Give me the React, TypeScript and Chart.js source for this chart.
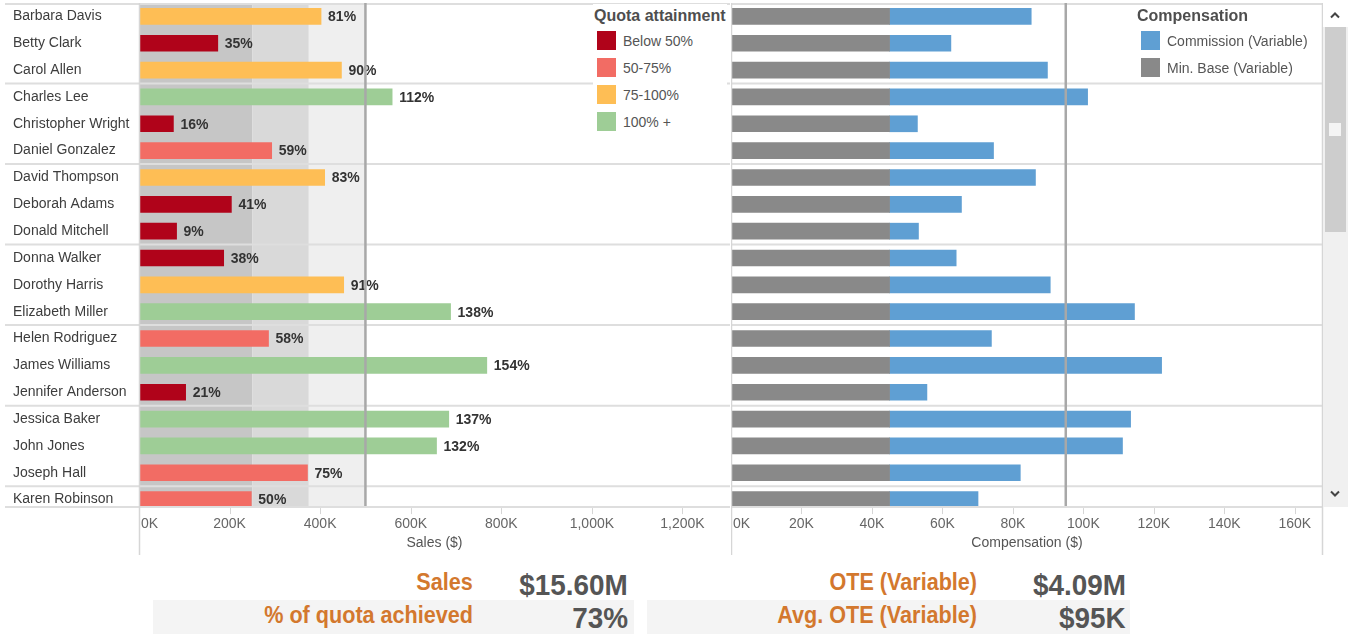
import React, { useEffect, useRef } from 'react';
import { Chart, registerables } from 'chart.js';

Chart.register(...registerables);

// ---------- data ----------
const REPS = [
  'Barbara Davis', 'Betty Clark', 'Carol Allen', 'Charles Lee', 'Christopher Wright',
  'Daniel Gonzalez', 'David Thompson', 'Deborah Adams', 'Donald Mitchell', 'Donna Walker',
  'Dorothy Harris', 'Elizabeth Miller', 'Helen Rodriguez', 'James Williams', 'Jennifer Anderson',
  'Jessica Baker', 'John Jones', 'Joseph Hall', 'Karen Robinson',
];
const REP_GROUP = [1, 1, 1, 2, 2, 2, 3, 3, 3, 4, 4, 4, 5, 5, 5, 6, 6, 6, 7];
const SALES = [
  402000, 174000, 447000, 559000, 76000, 293000, 410000, 204000, 83000, 187000,
  452000, 688000, 286000, 768000, 103000, 684000, 657000, 372000, 248000,
];
const QUOTA_PCT = [81, 35, 90, 112, 16, 59, 83, 41, 9, 38, 91, 138, 58, 154, 21, 137, 132, 75, 50];
const MIN_BASE = [
  45000, 45000, 45000, 45000, 45000, 45000, 45000, 45000, 45000, 45000,
  45000, 45000, 45000, 45000, 45000, 45000, 45000, 45000, 45000,
];
const COMMISSION = [
  40200, 17400, 44800, 56200, 7900, 29500, 41400, 20400, 8200, 18900,
  45600, 69500, 28900, 77200, 10600, 68400, 66100, 37100, 25100,
];

const SALES_TICKS = [0, 200000, 400000, 600000, 800000, 1000000, 1200000];
const SALES_TICK_LABELS = ['0K', '200K', '400K', '600K', '800K', '1,000K', '1,200K'];
const COMP_TICKS = [0, 20000, 40000, 60000, 80000, 100000, 120000, 140000, 160000];
const COMP_TICK_LABELS = ['0K', '20K', '40K', '60K', '80K', '100K', '120K', '140K', '160K'];

const QUOTA_BANDS = [0, 250000, 375000, 500000];
const QUOTA_LINE = 500000;
const AVG_OTE = 95000;

const TIERS = ['Below 50%', '50-75%', '75-100%', '100% +'];
const COMP_SERIES = ['Commission (Variable)', 'Min. Base (Variable)'];

const KPI_LEFT = [['Sales', '$15.60M'], ['% of quota achieved', '73%']];
const KPI_RIGHT = [['OTE (Variable)', '$4.09M'], ['Avg. OTE (Variable)', '$95K']];

// ---------- styles / layout ----------
const VISIBLE_ROWS = 18.78; // rows visible in the scrolling window (last row is cut)
const TIER_COLORS = ['#B0031A', '#F26C64', '#FEBE55', '#9ECD96'];
const COMP_COLORS = ['#5F9FD3', '#898989'];
const BAND_COLORS = ['#C6C6C6', '#D9D9D9', '#EFEFEF'];
const SEP = '#DEDEDE';
const AXIS = '#D6D6D6';
const REF = '#A8A8A8';
const FONT = '"Liberation Sans", Arial, sans-serif';
const ORANGE = '#D3782E';

const tierOf = (p: number) => (p < 50 ? 0 : p <= 75 ? 1 : p < 100 ? 2 : 3);

function hLine(ctx: CanvasRenderingContext2D, x0: number, x1: number, y: number, color: string, w: number) {
  ctx.save();
  ctx.strokeStyle = color;
  ctx.lineWidth = w;
  ctx.beginPath();
  ctx.moveTo(x0, y);
  ctx.lineTo(x1, y);
  ctx.stroke();
  ctx.restore();
}
function vLine(ctx: CanvasRenderingContext2D, x: number, y0: number, y1: number, color: string, w: number) {
  ctx.save();
  ctx.strokeStyle = color;
  ctx.lineWidth = w;
  ctx.beginPath();
  ctx.moveTo(x, y0);
  ctx.lineTo(x, y1);
  ctx.stroke();
  ctx.restore();
}

type DecorOpts = {
  bands: boolean;
  ref: number;
  ticks: number[];
  tickLabels: string[];
  title: string;
  lineStart: number;
  valueLabels: boolean;
  rightBorder: boolean;
};

const visibleBottom = (a: any) => a.top + ((a.bottom - a.top) * VISIBLE_ROWS) / REPS.length;

function makeDecor(o: DecorOpts) {
  return {
    id: 'decor',
    beforeDatasetsDraw(chart: any) {
      const { ctx, chartArea: a, scales } = chart;
      const x = scales.x;
      const y = scales.y;
      const bottom = visibleBottom(a);
      if (o.bands) {
        for (let b = 0; b < QUOTA_BANDS.length - 1; b++) {
          const x0 = x.getPixelForValue(QUOTA_BANDS[b]);
          const x1 = x.getPixelForValue(QUOTA_BANDS[b + 1]);
          ctx.fillStyle = BAND_COLORS[b];
          ctx.fillRect(x0, a.top, x1 - x0, bottom - a.top);
        }
      }
      for (let i = 1; i < REPS.length; i++) {
        if (REP_GROUP[i] !== REP_GROUP[i - 1]) {
          const yy = (y.getPixelForValue(i - 1) + y.getPixelForValue(i)) / 2;
          hLine(ctx, o.lineStart, a.right, yy, SEP, 2);
        }
      }
      hLine(ctx, o.lineStart, a.right, a.top + 1, SEP, 2);
    },
    afterDatasetsDraw(chart: any) {
      const { ctx, chartArea: a, scales, height } = chart;
      const x = scales.x;
      const bottom = visibleBottom(a);
      if (o.valueLabels) {
        ctx.save();
        ctx.textBaseline = 'middle';
        const meta = chart.getDatasetMeta(0);
        ctx.font = `bold 14px ${FONT}`;
        ctx.fillStyle = '#333333';
        ctx.textAlign = 'left';
        meta.data.forEach((el: any, i: number) => {
          ctx.fillText(`${QUOTA_PCT[i]}%`, el.x + 7, el.y + 1);
        });
        ctx.restore();
      }

      // cover anything below the visible window (scrolled-off part)
      ctx.save();
      ctx.fillStyle = '#ffffff';
      ctx.fillRect(a.left, bottom, a.right - a.left, a.bottom - bottom + 1);
      ctx.restore();

      // reference line
      const rx = x.getPixelForValue(o.ref);
      vLine(ctx, rx, a.top, bottom, REF, 2.5);

      // axes
      hLine(ctx, o.lineStart, a.right, bottom, SEP, 2);
      vLine(ctx, a.left + 0.5, a.top, height - 5, AXIS, 1.5);
      if (o.rightBorder) vLine(ctx, a.right - 0.5, a.top, height - 5, AXIS, 1.5);

      ctx.save();
      ctx.textBaseline = 'middle';
      ctx.font = `14px ${FONT}`;
      ctx.fillStyle = '#666666';
      o.ticks.forEach((v, i) => {
        const px = x.getPixelForValue(v);
        if (i > 0) vLine(ctx, Math.round(px) + 0.5, bottom + 1, bottom + 7, AXIS, 1);
        if (i === 0) {
          ctx.textAlign = 'left';
          ctx.fillText(o.tickLabels[i], px + 2, bottom + 17);
        } else {
          ctx.textAlign = 'center';
          ctx.fillText(o.tickLabels[i], px, bottom + 17);
        }
      });
      ctx.textAlign = 'center';
      ctx.fillStyle = '#555555';
      ctx.fillText(o.title, (a.left + a.right) / 2, bottom + 36);
      ctx.restore();
    },
  };
}

function Chevron({ x, y, up }: { x: number; y: number; up: boolean }) {
  return (
    <svg width={12} height={8} style={{ position: 'absolute', left: x - 6, top: y - 4 }} viewBox="0 0 12 8">
      <polyline
        points={up ? '2,6.5 6,2.5 10,6.5' : '2,1.5 6,5.5 10,1.5'}
        fill="none"
        stroke="#444"
        strokeWidth={2}
      />
    </svg>
  );
}

export default function App() {
  const salesRef = useRef<HTMLCanvasElement>(null);
  const compRef = useRef<HTMLCanvasElement>(null);

  useEffect(() => {
    Chart.defaults.font.family = FONT;

    const c1 = new Chart(salesRef.current as HTMLCanvasElement, {
      type: 'bar',
      data: {
        labels: REPS,
        datasets: [
          {
            label: 'Sales ($)',
            data: SALES,
            backgroundColor: QUOTA_PCT.map((p) => TIER_COLORS[tierOf(p)]),
            barThickness: 16,
            borderWidth: 0,
          },
        ],
      },
      options: {
        indexAxis: 'y',
        responsive: false,
        animation: false,
        layout: { padding: { left: 13, right: 1, top: 3, bottom: 47 } },
        scales: {
          x: { type: 'linear', display: false, min: 0, max: 1305000 },
          y: {
            type: 'category',
            offset: true,
            grid: { display: false, drawTicks: false },
            border: { display: false },
            ticks: {
              font: { size: 14, family: FONT },
              color: '#3D3D3D',
              crossAlign: 'far',
              padding: 0,
              autoSkip: false,
            },
            afterFit: (s: any) => {
              s.width = 126;
              s.paddingTop = 0;
              s.paddingBottom = 0;
            },
          },
        },
        plugins: { legend: { display: false }, tooltip: { enabled: false } },
      } as any,
      plugins: [
        makeDecor({
          bands: true,
          ref: QUOTA_LINE,
          ticks: SALES_TICKS,
          tickLabels: SALES_TICK_LABELS,
          title: 'Sales ($)',
          lineStart: 5,
          valueLabels: true,
          rightBorder: false,
        }),
      ],
    });

    const c2 = new Chart(compRef.current as HTMLCanvasElement, {
      type: 'bar',
      data: {
        labels: REPS,
        datasets: [
          {
            label: COMP_SERIES[1],
            data: MIN_BASE,
            backgroundColor: COMP_COLORS[1],
            barThickness: 16,
            borderWidth: 0,
          },
          {
            label: COMP_SERIES[0],
            data: COMMISSION,
            backgroundColor: COMP_COLORS[0],
            barThickness: 16,
            borderWidth: 0,
          },
        ],
      },
      options: {
        indexAxis: 'y',
        responsive: false,
        animation: false,
        layout: { padding: { left: 0, right: 1, top: 3, bottom: 47 } },
        scales: {
          x: { type: 'linear', display: false, stacked: true, min: 0, max: 168000 },
          y: {
            type: 'category',
            stacked: true,
            offset: true,
            grid: { display: false, drawTicks: false },
            border: { display: false },
            ticks: { display: false },
            afterFit: (s: any) => {
              s.width = 0;
              s.paddingTop = 0;
              s.paddingBottom = 0;
            },
          },
        },
        plugins: { legend: { display: false }, tooltip: { enabled: false } },
      } as any,
      plugins: [
        makeDecor({
          bands: false,
          ref: AVG_OTE,
          ticks: COMP_TICKS,
          tickLabels: COMP_TICK_LABELS,
          title: 'Compensation ($)',
          lineStart: 0,
          valueLabels: false,
          rightBorder: true,
        }),
      ],
    });

    return () => {
      c1.destroy();
      c2.destroy();
    };
  }, []);

  const kpiText = (text: string, right: number, top: number, isValue: boolean) => (
    <div
      key={text}
      style={{
        position: 'absolute',
        left: 0,
        width: right,
        top,
        height: 32,
        lineHeight: '32px',
        textAlign: 'right',
        whiteSpace: 'nowrap',
      }}
    >
      <span
        style={{
          display: 'inline-block',
          transform: `scaleX(${isValue ? 0.93 : 0.9})`,
          transformOrigin: 'right center',
          font: `bold ${isValue ? 30 : 24}px ${FONT}`,
          color: isValue ? '#555555' : ORANGE,
        }}
      >
        {text}
      </span>
    </div>
  );

  return (
    <div
      style={{
        position: 'fixed',
        left: 0,
        top: 0,
        width: 1348,
        height: 634,
        background: '#ffffff',
        overflow: 'hidden',
        fontFamily: FONT,
      }}
    >
      <canvas ref={salesRef} width={731} height={560} style={{ position: 'absolute', left: 0, top: 0 }} />
      <canvas ref={compRef} width={593} height={560} style={{ position: 'absolute', left: 731, top: 0 }} />

      {/* Quota attainment legend */}
      <div style={{ position: 'absolute', left: 593, top: 4, width: 134, height: 131, background: '#ffffff' }}>
        <div style={{ position: 'absolute', left: 1, top: 3, font: `bold 16px ${FONT}`, color: '#4E4E4E', lineHeight: '18px', whiteSpace: 'nowrap' }}>
          Quota attainment
        </div>
        {TIERS.map((t, k) => (
          <React.Fragment key={t}>
            <div style={{ position: 'absolute', left: 4, top: 27 + k * 27, width: 19, height: 19, background: TIER_COLORS[k] }} />
            <div style={{ position: 'absolute', left: 30, top: 28 + k * 27, font: `14px ${FONT}`, color: '#555555', lineHeight: '18px', whiteSpace: 'nowrap' }}>
              {t}
            </div>
          </React.Fragment>
        ))}
      </div>

      {/* Compensation legend */}
      <div style={{ position: 'absolute', left: 1137, top: 7, font: `bold 16px ${FONT}`, color: '#4E4E4E', lineHeight: '18px', whiteSpace: 'nowrap' }}>
        Compensation
      </div>
      {COMP_SERIES.map((s, k) => (
        <React.Fragment key={s}>
          <div style={{ position: 'absolute', left: 1141, top: 31 + k * 27, width: 19, height: 19, background: COMP_COLORS[k] }} />
          <div style={{ position: 'absolute', left: 1167, top: 32 + k * 27, font: `14px ${FONT}`, color: '#555555', lineHeight: '18px', whiteSpace: 'nowrap' }}>
            {s}
          </div>
        </React.Fragment>
      ))}

      {/* Scrollbar */}
      <div style={{ position: 'absolute', left: 1323, top: 3, width: 25, height: 504, background: '#F0F0F0' }} />
      <div style={{ position: 'absolute', left: 1323, top: 3, width: 25, height: 24, background: '#FFFFFF' }} />
      <div style={{ position: 'absolute', left: 1325, top: 27, width: 21, height: 205, background: '#CDCDCD' }} />
      <div style={{ position: 'absolute', left: 1329, top: 123, width: 12, height: 13, background: '#F4F4F4' }} />
      <Chevron x={1335} y={15} up={true} />
      <Chevron x={1335} y={494} up={false} />

      {/* KPI area */}
      <div style={{ position: 'absolute', left: 153, top: 600, width: 481, height: 34, background: '#F4F4F4' }} />
      <div style={{ position: 'absolute', left: 647, top: 600, width: 483, height: 34, background: '#F4F4F4' }} />
      {kpiText(KPI_LEFT[0][0], 473, 568, false)}
      {kpiText(KPI_LEFT[0][1], 628, 568, true)}
      {kpiText(KPI_LEFT[1][0], 473, 601, false)}
      {kpiText(KPI_LEFT[1][1], 628, 601, true)}
      {kpiText(KPI_RIGHT[0][0], 977, 568, false)}
      {kpiText(KPI_RIGHT[0][1], 1126, 568, true)}
      {kpiText(KPI_RIGHT[1][0], 977, 601, false)}
      {kpiText(KPI_RIGHT[1][1], 1126, 601, true)}
    </div>
  );
}
